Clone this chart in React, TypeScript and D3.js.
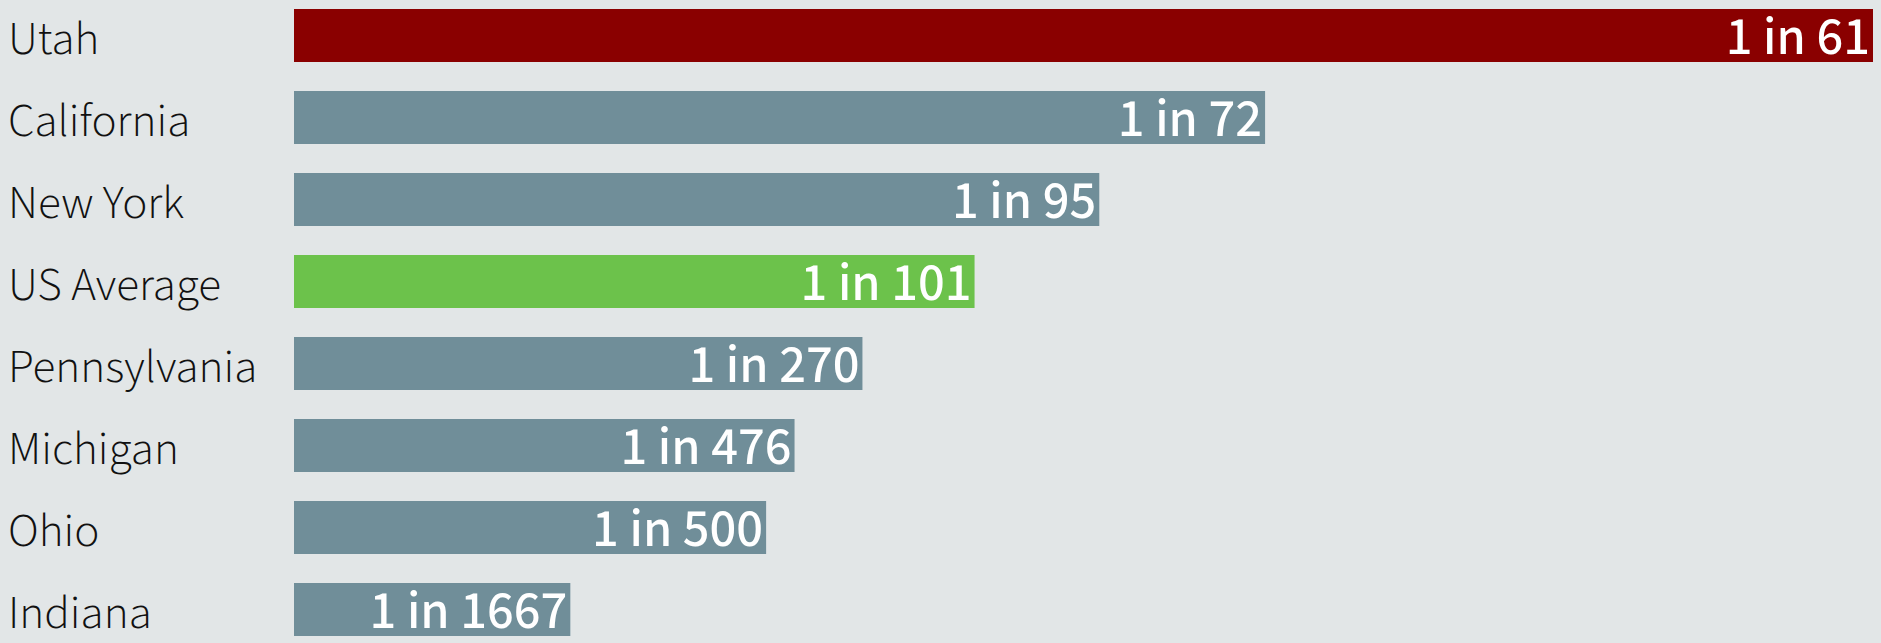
import React from "react";
import * as d3 from "d3";

const states = ["Utah", "California", "New York", "US Average", "Pennsylvania", "Michigan", "Ohio", "Indiana"];
const ratioLabels = ["1 in 61", "1 in 72", "1 in 95", "1 in 101", "1 in 270", "1 in 476", "1 in 500", "1 in 1667"];
// relative bar length as drawn in the picture (Utah = 100)
const barValues = [100, 61.5, 51.0, 43.1, 36.0, 31.7, 29.9, 17.5];
const barKinds = ["highlight", "normal", "normal", "average", "normal", "normal", "normal", "normal"];

const colors: Record<string, string> = {
  highlight: "#8a0000",
  normal: "#708e99",
  average: "#6cc24b",
};

const W = 1881;
const H = 643;

export default function App() {
  const x = d3.scaleLinear().domain([0, 100]).range([294, 1873]);
  const step = 82;
  const bw = 53;
  const top = 9;
  const y = d3
    .scaleBand<string>()
    .domain(states)
    .range([top, top + step * (states.length - 1) + bw])
    .paddingInner((step - bw) / step)
    .paddingOuter(0)
    .align(0);
  const font = "'Source Sans Pro', 'Source Sans 3', Lato, 'Noto Sans', sans-serif";
  return (
    <svg width={W} height={H} style={{ position: "absolute", left: 0, top: 0, background: "#e2e6e7" }}>
      <rect x={0} y={0} width={W} height={H} fill="#e2e6e7" />
      {states.map((s, i) => {
        const y0 = y(s) as number;
        const h = y.bandwidth();
        return (
          <g key={s}>
            <text x={8} y={y0 + h / 2 + 18} fontFamily={font} fontWeight={300} fontSize={47} fill="#111">
              {s}
            </text>
            <rect x={x(0)} y={y0} width={x(barValues[i]) - x(0)} height={h} fill={colors[barKinds[i]]} />
            <text
              x={x(barValues[i]) - 3}
              y={y0 + h / 2 + 18}
              textAnchor="end"
              fontFamily={font}
              fontWeight={500}
              fontSize={53}
              fill="#fff"
            >
              {ratioLabels[i]}
            </text>
          </g>
        );
      })}
    </svg>
  );
}
